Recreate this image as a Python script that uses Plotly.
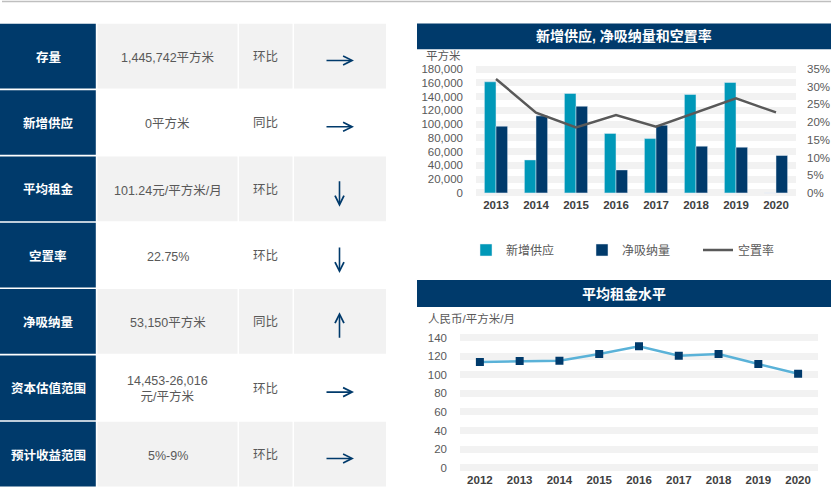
import plotly.graph_objects as go

W, H = 831, 494
FONT = "Liberation Sans, Arial, Noto Sans CJK SC, sans-serif"
NAVY = "#003A6B"
TEAL = "#0098B8"
GRAY_TXT = "#595959"

# ---- table data ----
row_labels = ["存量", "新增供应", "平均租金", "空置率", "净吸纳量", "资本估值范围", "预计收益范围"]
row_values = ["1,445,742平方米", "0平方米", "101.24元/平方米/月", "22.75%", "53,150平方米",
              "14,453-26,016<br>元/平方米", "5%-9%"]
row_compare = ["环比", "同比", "环比", "环比", "同比", "环比", "环比"]
row_trend = ["right", "right", "down", "down", "up", "right", "right"]

# ---- chart 1 data ----
years1 = ["2013", "2014", "2015", "2016", "2017", "2018", "2019", "2020"]
new_supply = [161500, 48000, 144500, 86500, 79000, 143000, 160500, 0]
net_absorption = [97000, 112000, 126000, 33500, 98500, 68000, 66500, 54500]
vacancy = [32.2, 22.7, 18.5, 22.0, 18.7, 22.7, 26.7, 22.75]
left_ticks = [0, 20000, 40000, 60000, 80000, 100000, 120000, 140000, 160000, 180000]
right_ticks = [0, 5, 10, 15, 20, 25, 30, 35]
right_labels = ["0%", "5%", "10%", "15%", "20%", "25%", "30%", "35%"]

# ---- chart 2 data ----
years2 = ["2012", "2013", "2014", "2015", "2016", "2017", "2018", "2019", "2020"]
rent = [113.8, 114.9, 115.2, 122.4, 130.7, 120.6, 122.4, 111.6, 101.24]
rent_ticks = [0, 20, 40, 60, 80, 100, 120, 140]


def px(x):
    return x / W


def py(y):
    return 1 - y / H


fig = go.Figure()

fig.add_trace(go.Bar(x=years1, y=new_supply, name="新增供应", marker_color=TEAL,
                     xaxis="x", yaxis="y"))
fig.add_trace(go.Bar(x=years1, y=net_absorption, name="净吸纳量", marker_color=NAVY,
                     xaxis="x", yaxis="y"))
fig.add_trace(go.Scatter(x=years1, y=vacancy, name="空置率", mode="lines",
                         line=dict(color="#595959", width=2.5), xaxis="x", yaxis="y2"))
fig.add_trace(go.Scatter(x=years2, y=rent, name="平均租金", mode="lines+markers",
                         line=dict(color="#5AB2D8", width=2.5),
                         marker=dict(symbol="square", size=8, color=NAVY),
                         xaxis="x3", yaxis="y3", showlegend=False))

shapes = []
annotations = []

# top rule
shapes.append(dict(type="line", xref="paper", yref="paper", x0=px(2), x1=px(831),
                   y0=py(1.5), y1=py(1.5), line=dict(color="#BFBFBF", width=1.5)))

# table
row_top0, row_h = 23.0, 66.33
cols = [(97.5, 237.5), (239.0, 292.5), (294.0, 386.0)]
for i in range(len(row_labels)):
    top = row_top0 + i * row_h
    bot = top + row_h
    cy = (top + bot) / 2
    shapes.append(dict(type="rect", xref="paper", yref="paper", x0=px(0), x1=px(95.8),
                       y0=py(bot - 0.8), y1=py(top + 0.8), fillcolor=NAVY, line_width=0,
                       layer="below"))
    if i % 2 == 0:
        for (a, b) in cols:
            shapes.append(dict(type="rect", xref="paper", yref="paper", x0=px(a), x1=px(b),
                               y0=py(bot - 0.8), y1=py(top + 0.8), fillcolor="#F2F2F2",
                               line_width=0, layer="below"))
    annotations.append(dict(xref="paper", yref="paper", x=px(48), y=py(cy + 1),
                            xanchor="center", yanchor="middle",
                            text="<b>%s</b>" % row_labels[i], showarrow=False,
                            font=dict(size=12.5, color="white")))
    annotations.append(dict(xref="paper", yref="paper", x=px(167.5), y=py(cy + 1.5),
                            xanchor="center", yanchor="middle",
                            text=row_values[i], showarrow=False,
                            font=dict(size=12.5, color=GRAY_TXT)))
    annotations.append(dict(xref="paper", yref="paper", x=px(265.5), y=py(cy + 1),
                            xanchor="center", yanchor="middle",
                            text=row_compare[i], showarrow=False,
                            font=dict(size=12.5, color=GRAY_TXT)))
    ay_c = cy + 4.3
    t = row_trend[i]
    if t == "right":
        ann = dict(x=px(354), y=py(ay_c), ax=-29, ay=0)
    elif t == "down":
        ann = dict(x=px(339.5), y=py(ay_c + 13.5), ax=0, ay=-27)
    else:
        ann = dict(x=px(339.5), y=py(ay_c - 13.5), ax=0, ay=27)
    ann.update(xref="paper", yref="paper", text="", showarrow=True, arrowhead=5,
               arrowsize=1.1, arrowwidth=1.6, arrowcolor=NAVY, standoff=0, startstandoff=0)
    annotations.append(ann)

# chart titles
for (y0, y1, title) in [(23.5, 49.3, "新增供应, 净吸纳量和空置率"), (280.0, 307.0, "平均租金水平")]:
    shapes.append(dict(type="rect", xref="paper", yref="paper", x0=px(417), x1=px(831),
                       y0=py(y1), y1=py(y0), fillcolor=NAVY, line_width=0, layer="below"))
    annotations.append(dict(xref="paper", yref="paper", x=px(624), y=py((y0 + y1) / 2),
                            xanchor="center", yanchor="middle",
                            text="<b>%s</b>" % title, showarrow=False,
                            font=dict(size=14, color="white")))

annotations.append(dict(xref="paper", yref="paper", x=px(424), y=py(56), xanchor="left",
                        yanchor="middle",
                        text="平方米", showarrow=False, font=dict(size=11.5, color=GRAY_TXT)))
annotations.append(dict(xref="paper", yref="paper", x=px(426), y=py(318), xanchor="left",
                        yanchor="middle",
                        text="人民币/平方米/月", showarrow=False,
                        font=dict(size=11.5, color=GRAY_TXT)))

tickfont_y = dict(size=11.5, color=GRAY_TXT)
tickfont_x = dict(size=11.5, color="#404040", weight="bold")

fig.update_layout(
    width=W, height=H, autosize=False,
    margin=dict(l=0, r=0, t=0, b=0, pad=0, autoexpand=False),
    paper_bgcolor="white", plot_bgcolor="white",
    font=dict(family=FONT, color=GRAY_TXT),
    barmode="group", bargap=0.42, bargroupgap=0,
    shapes=shapes, annotations=annotations,
    showlegend=True,
    legend=dict(orientation="h", x=px(466), y=py(250), xanchor="left", yanchor="middle",
                font=dict(size=12, color=GRAY_TXT), entrywidth=71, entrywidthmode="pixels",
                bgcolor="rgba(0,0,0,0)", itemwidth=30),
    xaxis=dict(domain=[px(476), px(796)], anchor="y", type="category", showgrid=False,
               zeroline=False, showline=False, ticks="", tickfont=tickfont_x,
               range=[-0.5, 7.5], automargin=False),
    yaxis=dict(domain=[py(196.4), py(65.6)], anchor="x", range=[-5000, 185000],
               tickvals=left_ticks, tickformat=",d", showgrid=True, gridcolor="#F2F2F2",
               gridwidth=7, zeroline=False, showline=False, ticks="", tickfont=tickfont_y,
               ticklabelstandoff=12, automargin=False),
    yaxis2=dict(domain=[py(196.4), py(65.6)], anchor="x", overlaying="y", side="right",
                range=[-35 * 5000 / 180000, 35 + 35 * 5000 / 180000],
                tickvals=right_ticks, ticktext=right_labels,
                showgrid=False, zeroline=False, showline=False, ticks="",
                tickfont=tickfont_y, ticklabelstandoff=10, automargin=False),
    xaxis3=dict(domain=[px(460), px(818)], anchor="y3", type="category", showgrid=False,
                zeroline=False, showline=False, ticks="", tickfont=tickfont_x,
                range=[-0.5, 8.5], automargin=False),
    yaxis3=dict(domain=[py(471.4), py(334.0)], anchor="x3", range=[-4, 144],
                tickvals=rent_ticks, showgrid=True,
                gridcolor="#F2F2F2", gridwidth=7, zeroline=False, showline=False, ticks="",
                tickfont=tickfont_y, ticklabelstandoff=12, automargin=False),
)

fig.write_html("out.html", config={"displayModeBar": False},
               post_script="document.body.style.margin='0';document.body.style.padding='0';")
